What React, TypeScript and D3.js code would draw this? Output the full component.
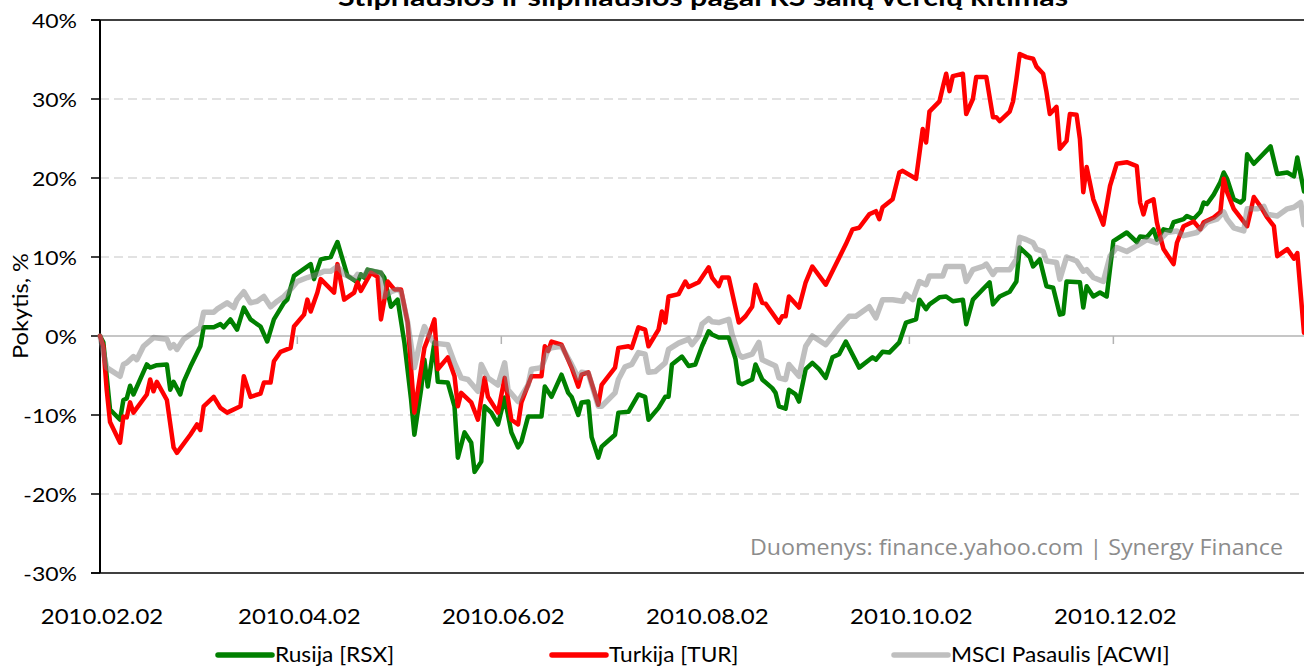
import React from 'react';
import * as d3 from 'd3';

// ---- data ----
const startDate = '2010-02-02';
const endDate = '2011-01-28';
const tickDates = ['2010-02-02', '2010-04-02', '2010-06-02', '2010-08-02', '2010-10-02', '2010-12-02'];
const tickLabels = ['2010.02.02', '2010.04.02', '2010.06.02', '2010.08.02', '2010.10.02', '2010.12.02'];
const yTicks = [-30, -20, -10, 0, 10, 20, 30, 40];
const title = 'Stipriausios ir silpniausios pagal RS šalių verčių kitimas';
const yTitle = 'Pokytis, %';
const credit = 'Duomenys: finance.yahoo.com  | Synergy Finance';
const seriesNames = ['Rusija [RSX]', 'Turkija [TUR]', 'MSCI Pasaulis [ACWI]'];

// [days since 2010-02-02, % change]
const rsx: [number, number][] = [
  [0, 0], [1, -0.8], [2, -5.1], [3, -9.3], [6, -10.6], [7, -8.1], [8, -7.9], [9, -6.3], [10, -7.4], [14, -3.6],
  [15, -4.0], [17, -3.7], [20, -3.6], [21, -6.8], [22, -5.8], [24, -7.4], [25, -5.8], [27, -3.9], [30, -1.3], [31, 1.1],
  [34, 1.1], [36, 1.5], [37, 1.1], [39, 2.1], [41, 0.8], [43, 3.6], [45, 2.1], [48, 1.2], [50, -0.7], [52, 2.1],
  [55, 4.2], [56, 4.6], [58, 7.6], [63, 9.1], [64, 7.2], [66, 9.7], [69, 10.0], [70, 11.0], [71, 11.9], [74, 7.6],
  [77, 6.8], [78, 7.8], [79, 7.4], [80, 8.4], [84, 8.0], [85, 7.4], [87, 3.7], [89, 4.6], [91, -0.8], [93, -8.0],
  [94, -12.5], [96, -6.8], [97, -3.0], [98, -6.4], [100, -0.8], [101, -5.8], [104, -5.9], [106, -8.9], [107, -15.4], [109, -12.2],
  [111, -13.5], [112, -17.2], [114, -15.9], [115, -8.9], [117, -9.7], [119, -11.2], [121, -7.8], [123, -12.2], [125, -14.1], [126, -13.4],
  [128, -10.2], [132, -10.2], [133, -6.4], [135, -7.7], [138, -4.9], [140, -7.2], [141, -7.7], [143, -10.0], [144, -8.4], [146, -8.3],
  [147, -12.8], [149, -15.4], [150, -14.0], [154, -12.5], [155, -9.7], [158, -9.6], [161, -7.4], [163, -7.7], [164, -10.6], [167, -9.1],
  [169, -7.7], [170, -7.7], [171, -3.6], [174, -2.6], [176, -3.8], [178, -3.6], [180, -1.3], [182, 0.6], [183, 0.2], [185, -0.2],
  [188, -0.2], [190, -2.9], [191, -5.9], [192, -6.1], [195, -5.5], [196, -3.6], [198, -5.5], [201, -6.6], [202, -7.2], [203, -8.9],
  [205, -9.2], [206, -6.8], [208, -7.4], [209, -8.3], [211, -4.2], [213, -3.4], [215, -4.2], [217, -5.3], [219, -2.7], [221, -2.3],
  [223, -0.7], [227, -4.0], [231, -2.7], [232, -3.0], [234, -2.0], [236, -2.1], [239, -0.8], [241, 1.7], [244, 2.1], [245, 4.6],
  [247, 3.4], [248, 4.0], [251, 4.9], [253, 5.0], [255, 4.4], [258, 4.6], [259, 1.5], [261, 4.6], [266, 6.8], [267, 4.0],
  [269, 5.0], [272, 5.6], [274, 6.9], [275, 11.2], [278, 10.0], [279, 8.8], [281, 9.7], [283, 6.3], [285, 6.1], [287, 2.7],
  [288, 2.8], [289, 6.9], [293, 6.8], [294, 3.6], [295, 6.3], [297, 5.0], [299, 5.5], [301, 5.0], [303, 12.0], [307, 13.1],
  [310, 11.9], [311, 12.6], [313, 12.5], [315, 13.5], [316, 12.2], [318, 13.5], [320, 13.3], [321, 14.4], [324, 14.8], [325, 15.2],
  [327, 14.8], [329, 15.7], [330, 16.9], [331, 16.7], [333, 17.9], [335, 19.5], [336, 20.7], [337, 19.9], [339, 17.3], [341, 16.9],
  [342, 17.3], [343, 23.0], [345, 21.8], [350, 24.0], [352, 20.5], [355, 20.7], [357, 20.2], [358, 22.6], [360, 18.3],
];

const tur: [number, number][] = [
  [0, 0], [1, -1.3], [2, -6.8], [3, -10.9], [6, -13.5], [7, -10.2], [8, -10.3], [9, -8.4], [10, -9.7], [14, -7.4],
  [15, -5.5], [16, -7.0], [17, -5.8], [20, -8.1], [22, -14.1], [23, -14.8], [27, -12.5], [29, -11.2], [30, -11.9], [31, -8.9],
  [34, -7.7], [36, -9.1], [38, -9.7], [42, -8.9], [43, -5.1], [45, -7.7], [48, -7.3], [49, -5.9], [51, -5.9], [52, -3.2],
  [54, -2.0], [57, -1.5], [58, 1.2], [61, 2.7], [62, 4.6], [63, 3.1], [65, 5.5], [66, 7.2], [70, 5.5], [71, 9.1],
  [73, 4.6], [76, 5.5], [77, 6.8], [78, 5.7], [81, 8.0], [83, 7.5], [84, 2.1], [86, 6.9], [88, 5.9], [90, 5.9],
  [92, 1.7], [94, -9.7], [97, -1.5], [98, -0.4], [100, 2.1], [101, -4.2], [104, -2.7], [106, -5.1], [107, -8.9], [108, -7.2],
  [111, -8.4], [113, -10.6], [115, -5.3], [116, -7.7], [119, -9.7], [121, -5.3], [123, -10.6], [125, -11.2], [126, -8.4], [129, -5.1],
  [132, -5.1], [133, -1.3], [134, -1.9], [135, -0.7], [138, -1.1], [141, -4.0], [143, -6.4], [144, -4.9], [146, -4.6], [149, -8.7],
  [150, -6.2], [154, -4.0], [155, -1.5], [158, -1.3], [159, -1.5], [161, 1.1], [163, 0.8], [164, -1.3], [167, 0.8], [168, 3.1],
  [169, 1.7], [170, 5.0], [173, 5.3], [175, 6.9], [176, 6.2], [179, 6.8], [182, 8.7], [183, 7.4], [185, 6.3], [186, 7.4],
  [188, 7.4], [189, 5.5], [191, 1.7], [193, 2.5], [195, 3.7], [196, 6.5], [198, 4.2], [199, 4.1], [203, 1.7], [204, 2.5],
  [205, 2.5], [206, 5.0], [209, 3.6], [211, 6.8], [213, 8.8], [217, 6.5], [219, 8.2], [223, 11.6], [225, 13.5], [227, 13.7],
  [230, 15.4], [232, 15.8], [233, 14.8], [234, 16.3], [237, 17.3], [239, 20.7], [240, 20.9], [244, 19.9], [246, 26.2], [247, 24.5],
  [248, 28.4], [251, 29.7], [252, 31.5], [253, 33.2], [254, 31.0], [255, 32.9], [258, 33.2], [259, 28.1], [261, 30.0], [262, 32.8],
  [265, 32.8], [267, 27.7], [268, 27.7], [269, 27.2], [272, 28.4], [273, 29.7], [274, 32.5], [275, 35.7], [277, 35.3], [279, 35.1],
  [280, 34.1], [282, 33.2], [283, 30.9], [284, 28.1], [286, 29.0], [287, 23.7], [289, 24.7], [290, 28.1], [292, 28.0], [293, 24.9],
  [294, 18.2], [295, 21.4], [297, 17.3], [300, 14.1], [302, 19.0], [304, 21.8], [307, 22.0], [310, 21.5], [311, 16.9], [312, 15.4],
  [313, 16.9], [315, 17.3], [316, 14.4], [317, 12.6], [318, 11.0], [321, 9.1], [322, 11.8], [324, 13.9], [327, 14.5], [329, 13.5],
  [330, 14.4], [333, 15.0], [335, 15.7], [336, 19.9], [337, 18.2], [339, 16.1], [343, 13.9], [344, 15.7], [345, 17.6], [347, 16.4],
  [349, 15.0], [351, 13.9], [352, 10.1], [355, 11.0], [357, 9.8], [358, 10.5], [360, 0.4],
];

const acwi: [number, number][] = [
  [0, 0], [2, -4.0], [6, -5.1], [7, -3.6], [8, -3.4], [10, -2.6], [11, -3.0], [13, -1.3], [16, -0.2], [20, -0.4],
  [21, -1.5], [22, -1.1], [23, -1.7], [25, -0.4], [27, 0.2], [30, 1.1], [31, 3.0], [34, 3.0], [35, 3.4], [38, 4.2],
  [40, 3.6], [41, 4.6], [43, 5.6], [45, 4.2], [47, 4.4], [49, 5.0], [51, 3.7], [53, 4.4], [55, 5.0], [57, 5.9],
  [59, 6.9], [62, 7.4], [65, 7.8], [67, 8.2], [69, 8.2], [71, 8.8], [73, 7.8], [76, 7.2], [77, 7.8], [79, 7.6],
  [80, 8.3], [84, 8.0], [85, 5.0], [87, 5.6], [89, 5.9], [90, 5.6], [92, 1.7], [94, -4.0], [96, -0.2], [97, 1.2],
  [99, -0.4], [100, -0.9], [104, -1.1], [106, -3.4], [108, -5.3], [110, -5.5], [113, -7.0], [114, -3.6], [116, -5.3], [119, -6.2],
  [121, -3.4], [122, -6.8], [125, -8.3], [128, -6.2], [129, -4.2], [132, -4.0], [134, -1.7], [135, -1.5], [138, -1.3], [141, -3.6],
  [143, -5.3], [144, -4.6], [146, -4.7], [149, -8.9], [150, -8.9], [154, -7.2], [155, -5.5], [157, -3.9], [159, -3.6], [161, -2.1],
  [163, -2.3], [164, -4.6], [166, -4.5], [169, -3.4], [170, -1.7], [173, -0.9], [176, -0.4], [177, -1.1], [179, 0.0], [180, 1.5],
  [182, 2.2], [183, 1.8], [185, 1.7], [188, 2.1], [189, 0.2], [191, -2.3], [192, -2.7], [195, -2.3], [197, -0.8], [198, -3.0],
  [202, -3.8], [203, -5.3], [205, -5.5], [206, -3.6], [209, -5.1], [211, -1.3], [213, 0.0], [217, -1.1], [219, 0.0], [221, 1.1],
  [224, 2.5], [226, 2.5], [228, 3.1], [230, 3.7], [232, 2.3], [234, 4.6], [237, 4.6], [240, 4.4], [241, 5.3], [243, 4.6],
  [245, 6.9], [247, 6.5], [248, 7.6], [252, 7.6], [253, 8.8], [258, 8.8], [259, 6.9], [261, 8.4], [264, 8.8], [265, 9.1],
  [267, 7.8], [268, 8.4], [272, 8.4], [274, 9.7], [275, 12.5], [277, 12.2], [279, 11.8], [280, 11.0], [282, 10.7], [283, 9.5],
  [286, 9.3], [287, 7.2], [289, 10.0], [292, 9.5], [294, 8.2], [295, 8.4], [297, 7.4], [300, 6.9], [302, 10.1], [304, 11.2],
  [307, 10.7], [310, 11.4], [313, 12.2], [316, 11.8], [319, 13.1], [322, 13.3], [324, 12.7], [328, 13.1], [331, 14.4], [334, 14.8],
  [336, 15.7], [337, 14.8], [339, 13.7], [342, 13.3], [343, 16.1], [346, 16.1], [348, 16.4], [349, 15.4], [352, 15.2], [355, 16.1],
  [357, 16.3], [359, 16.9], [360, 14.1],
];

const seriesData = [rsx, tur, acwi];
const seriesColors = ['#008000', '#ff0000', '#7f7f7f'];
const seriesOpacity = [1, 1, 0.5];

// ---- layout ----
const W = 1304;
const H = 666;
const left = 100;
const top = 20;
const bottom = 573;
const font = 'Lato, "Open Sans", sans-serif';

export default function App() {
  const parse = d3.timeParse('%Y-%m-%d');
  const start = parse(startDate) as Date;
  const x = d3.scaleTime().domain([start, parse(endDate) as Date]).range([left, W]);
  const y = d3.scaleLinear().domain([-30, 40]).range([bottom, top]);
  const dayX = (d: number) => x(d3.timeDay.offset(start, d));
  const line = d3
    .line<[number, number]>()
    .x((d) => dayX(d[0]))
    .y((d) => y(d[1]));

  const legendX = [218, 552, 894];

  return (
    <svg
      width={W}
      height={H}
      style={{ position: 'absolute', left: 0, top: 0, background: '#fff' }}
      fontFamily={font}
    >
      <rect x={0} y={0} width={W} height={H} fill="#fff" />
      {/* title */}
      <text
        x={338}
        y={6}
        fontSize={24}
        fontWeight="bold"
        textLength={730}
        lengthAdjust="spacingAndGlyphs"
        fill="#000"
      >
        {title}
      </text>

      {/* gridlines */}
      {yTicks
        .filter((t) => t !== 0 && t !== -30 && t !== 40)
        .map((t) => (
          <line
            key={'g' + t}
            x1={left}
            x2={W}
            y1={y(t)}
            y2={y(t)}
            stroke="#d9d9d9"
            strokeWidth={1.5}
            strokeDasharray="9,5"
          />
        ))}
      {/* top / bottom border */}
      <line x1={left - 9} x2={W} y1={y(40)} y2={y(40)} stroke="#000" strokeWidth={1.5} />
      <line x1={left - 9} x2={W} y1={y(-30)} y2={y(-30)} stroke="#000" strokeWidth={1.5} />

      {/* zero axis with date ticks */}
      <line x1={left} x2={W} y1={y(0)} y2={y(0)} stroke="#b3b3b3" strokeWidth={1.5} />
      {tickDates.map((t) => {
        const tx = x(parse(t) as Date);
        return <line key={'xt' + t} x1={tx} x2={tx} y1={y(0)} y2={y(0) + 8} stroke="#b3b3b3" strokeWidth={1.5} />;
      })}

      {/* y axis */}
      <line x1={left} x2={left} y1={top} y2={bottom} stroke="#000" strokeWidth={2} />
      {yTicks.map((t) => (
        <g key={'yt' + t}>
          <line x1={left - 9} x2={left} y1={y(t)} y2={y(t)} stroke="#000" strokeWidth={1.5} />
          <text
            transform={`translate(${left - 23},${y(t) + 8}) scale(1.15,1)`}
            textAnchor="end"
            fontSize={20}
            fill="#000"
          >
            {`${t}%`}
          </text>
        </g>
      ))}
      <text
        transform={`translate(28,${306}) rotate(-90)`}
        textAnchor="middle"
        fontSize={21}
        fill="#000"
        textLength={106}
        lengthAdjust="spacingAndGlyphs"
      >
        {yTitle}
      </text>

      {/* x labels */}
      {tickDates.map((t, i) => (
        <text
          key={'xl' + t}
          transform={`translate(${x(parse(t) as Date) + 2},624) scale(1.09,1)`}
          textAnchor="middle"
          fontSize={22}
          fill="#000"
        >
          {tickLabels[i]}
        </text>
      ))}

      {/* credit */}
      <text
        x={750}
        y={555}
        fontSize={21}
        fontFamily='"Open Sans", sans-serif'
        fill="#8c8c8c"
        textLength={533}
        lengthAdjust="spacingAndGlyphs"
      >
        {credit}
      </text>

      {/* series */}
      {seriesData.map((s, i) => (
        <path
          key={'s' + i}
          d={line(s) || ''}
          fill="none"
          stroke={seriesColors[i]}
          strokeOpacity={seriesOpacity[i]}
          strokeWidth={i === 2 ? 5.5 : 4.5}
          strokeLinejoin="round"
          strokeLinecap="round"
        />
      ))}

      {/* legend */}
      {seriesNames.map((n, i) => (
        <g key={'lg' + i}>
          <line
            x1={legendX[i]}
            x2={legendX[i] + 54}
            y1={655}
            y2={655}
            stroke={seriesColors[i]}
            strokeOpacity={seriesOpacity[i]}
            strokeWidth={5.5}
            strokeLinecap="round"
          />
          <text
            transform={`translate(${legendX[i] + 57},662) scale(1.08,1)`}
            fontSize={21}
            fill="#000"
          >
            {n}
          </text>
        </g>
      ))}
    </svg>
  );
}
